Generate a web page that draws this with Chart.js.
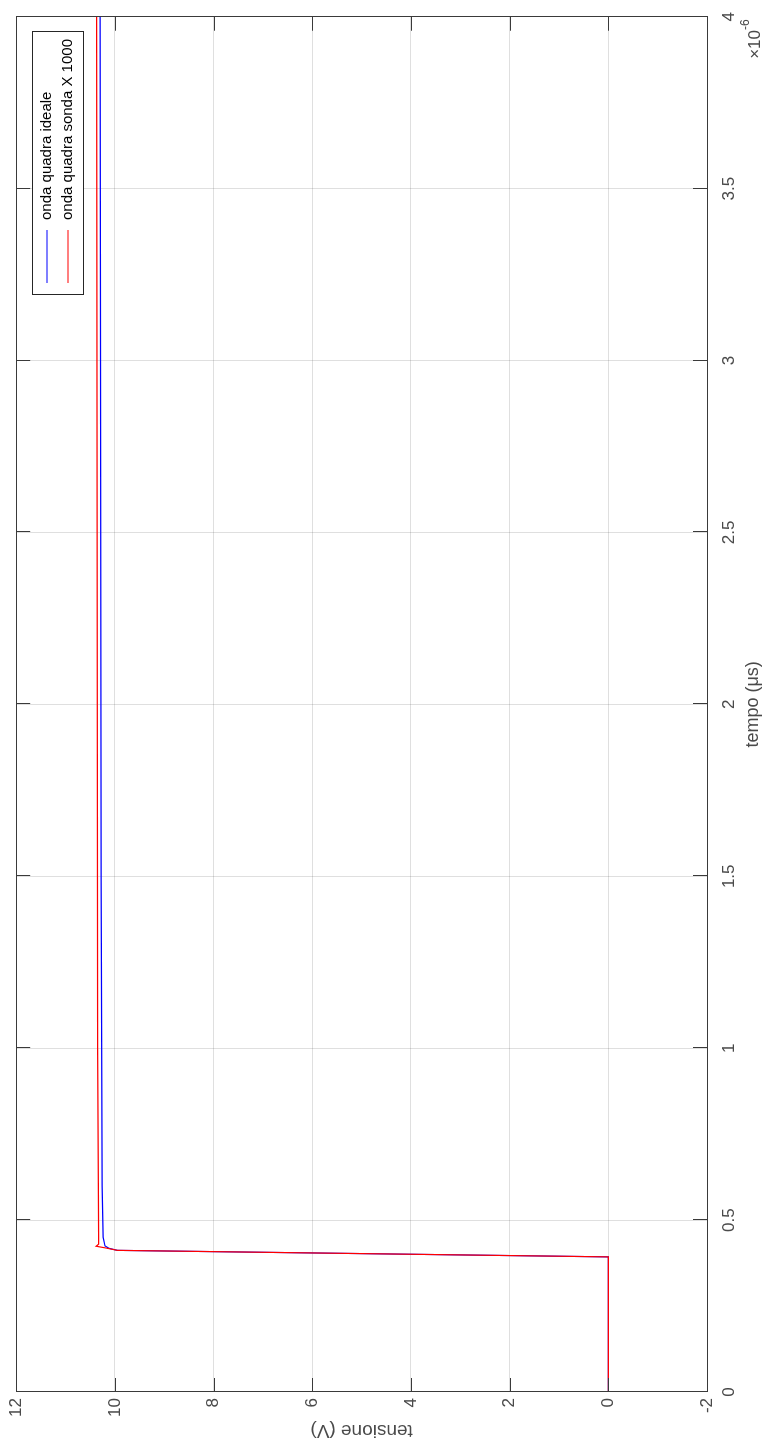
<!DOCTYPE html>
<html>
<head>
<meta charset="utf-8">
<script src="https://cdn.jsdelivr.net/npm/chart.js@4.4.1/dist/chart.umd.min.js"></script>
<style>
  html, body { margin: 0; padding: 0; background: #fff; overflow: hidden; width: 766px; height: 1448px; }
  /* the figure is rotated 90deg counter-clockwise, like the reference */
  #wrap { position: absolute; left: -341px; top: 341px; width: 1448px; height: 766px;
          transform: rotate(-90deg); transform-origin: 50% 50%; }
</style>
</head>
<body>
<div id="wrap"><canvas id="chart" width="1448" height="766"></canvas></div>
<script>
// tempo in secondi, tensione in volt
const tempoIdeale = [0, 0.393e-6, 0.412e-6, 0.418e-6, 0.425e-6, 0.45e-6, 0.6e-6, 1.5e-6, 4e-6];
const tensioneIdeale = [0, 0, 9.95, 10.12, 10.2, 10.24, 10.26, 10.28, 10.3];
const tempoSonda = [0, 0.393e-6, 0.412e-6, 0.418e-6, 0.424e-6, 0.43e-6, 0.45e-6, 1e-6, 4e-6];
const tensioneSonda = [0, 0, 9.95, 10.15, 10.38, 10.33, 10.33, 10.35, 10.37];
const tempoTicks = [0, 0.5, 1, 1.5, 2, 2.5, 3, 3.5, 4]; // x 10^-6
const tensioneTicks = [-2, 0, 2, 4, 6, 8, 10, 12];
const legendLabels = ["onda quadra ideale", "onda quadra sonda X 1000"];
const seriesColors = ["#0000ff", "#ff0000"];

const FONT = "'Liberation Sans', Arial, Helvetica, sans-serif";
const AXIS_COLOR = "#3a3a3a";
const GRID_COLOR = "rgba(38,38,38,0.15)";
const TICK_LEN = 14;

const toPoints = (xs, ys) => xs.map((x, i) => ({ x: x, y: ys[i] }));

// box, inward ticks, legend and the x10^-6 multiplier
const matlabAxes = {
  id: "matlabAxes",
  afterDraw(chart) {
    const ctx = chart.ctx;
    const a = chart.chartArea;
    const xs = chart.scales.x;
    const ys = chart.scales.y;
    ctx.save();
    ctx.strokeStyle = AXIS_COLOR;
    ctx.lineWidth = 1;
    ctx.beginPath();
    xs.ticks.forEach(t => {
      const px = Math.round(xs.getPixelForValue(t.value)) + 0.5;
      ctx.moveTo(px, a.bottom); ctx.lineTo(px, a.bottom - TICK_LEN);
      ctx.moveTo(px, a.top); ctx.lineTo(px, a.top + TICK_LEN);
    });
    ys.ticks.forEach(t => {
      const py = Math.round(ys.getPixelForValue(t.value)) + 0.5;
      ctx.moveTo(a.left, py); ctx.lineTo(a.left + TICK_LEN, py);
      ctx.moveTo(a.right, py); ctx.lineTo(a.right - TICK_LEN, py);
    });
    ctx.stroke();
    ctx.strokeRect(Math.round(a.left) + 0.5, Math.round(a.top) + 0.5,
                   Math.round(a.right - a.left), Math.round(a.bottom - a.top));

    // legend
    const lx = 1153, ly = 32, lw = 263, lh = 51;
    ctx.fillStyle = "#fff";
    ctx.fillRect(lx, ly, lw, lh);
    ctx.strokeStyle = "#262626";
    ctx.strokeRect(lx + 0.5, ly + 0.5, lw, lh);
    ctx.font = "15px " + FONT;
    ctx.textBaseline = "middle";
    ctx.textAlign = "left";
    const rows = [47, 68];
    legendLabels.forEach((lab, i) => {
      ctx.strokeStyle = seriesColors[i];
      ctx.lineWidth = 1.2;
      ctx.beginPath();
      ctx.moveTo(1165, rows[i]); ctx.lineTo(1218, rows[i]);
      ctx.stroke();
      ctx.fillStyle = "#000";
      ctx.fillText(lab, 1228, rows[i]);
    });

    // exponent
    ctx.fillStyle = "#4a4a4a";
    ctx.textAlign = "right";
    ctx.textBaseline = "alphabetic";
    ctx.font = "17px " + FONT;
    ctx.fillText("\u00d710", 1418, 760);
    ctx.textAlign = "left";
    ctx.font = "12px " + FONT;
    ctx.fillText("-6", 1418, 749);
    ctx.restore();
  }
};

new Chart(document.getElementById("chart"), {
  type: "line",
  data: {
    datasets: [
      {
        label: legendLabels[0],
        data: toPoints(tempoIdeale, tensioneIdeale),
        borderColor: seriesColors[0],
        borderWidth: 1.2,
        pointRadius: 0,
        tension: 0,
        order: 1
      },
      {
        label: legendLabels[1],
        data: toPoints(tempoSonda, tensioneSonda),
        borderColor: seriesColors[1],
        borderWidth: 1.2,
        pointRadius: 0,
        tension: 0,
        order: 0
      }
    ]
  },
  options: {
    responsive: false,
    animation: false,
    devicePixelRatio: 1,
    layout: { padding: { top: 15, right: 15, left: 0, bottom: 0 } },
    plugins: { legend: { display: false }, tooltip: { enabled: false } },
    scales: {
      x: {
        type: "linear",
        min: 0,
        max: 4e-6,
        afterBuildTicks: s => { s.ticks = tempoTicks.map(v => ({ value: v * 1e-6 })); },
        afterFit: s => { s.height = 59; },
        grid: { color: GRID_COLOR, drawTicks: false },
        border: { display: false },
        ticks: {
          padding: 12,
          color: "#4a4a4a",
          font: { family: FONT, size: 17 },
          maxRotation: 0,
          callback: v => String(Math.round(v * 1e7) / 10)
        },
        title: {
          display: true,
          text: "tempo (\u03bcs)",
          color: "#4a4a4a",
          font: { family: FONT, size: 18 },
          padding: { top: 0, bottom: 2 }
        }
      },
      y: {
        type: "linear",
        min: -2,
        max: 12,
        afterBuildTicks: s => { s.ticks = tensioneTicks.map(v => ({ value: v })); },
        afterFit: s => { s.width = 56; },
        grid: { color: GRID_COLOR, drawTicks: false },
        border: { display: false },
        ticks: {
          padding: 6,
          color: "#4a4a4a",
          font: { family: FONT, size: 17 }
        },
        title: {
          display: true,
          text: "tensione (V)",
          color: "#4a4a4a",
          font: { family: FONT, size: 19 },
          padding: { top: 6, bottom: 0 }
        }
      }
    }
  },
  plugins: [matlabAxes]
});
</script>
</body>
</html>
